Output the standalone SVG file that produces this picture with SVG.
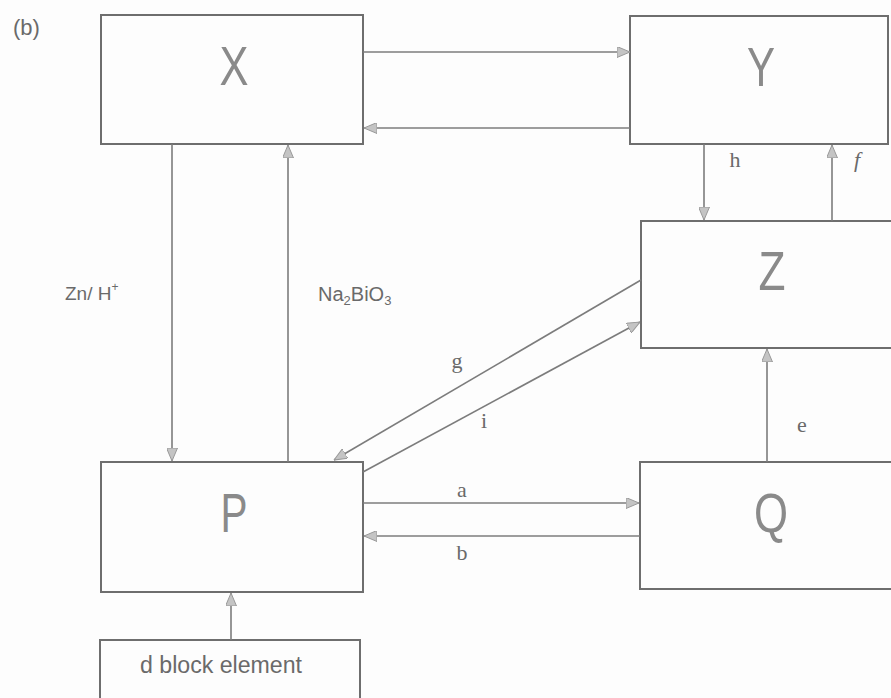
<svg xmlns="http://www.w3.org/2000/svg" width="891" height="698" viewBox="0 0 891 698">
<defs>
<style>
.box{fill:none;stroke:#6e6e6e;stroke-width:2}
.con{fill:none;stroke:#7c7c7c;stroke-width:1.6;marker-end:url(#ah)}
.big{font-family:"Liberation Sans",Arial,sans-serif;font-size:55px;fill:#8a8a8a;text-anchor:middle}
.lbl{font-family:"Liberation Serif","Times New Roman",serif;font-size:22px;fill:#6a6a6a;text-anchor:middle}
.sans{font-family:"Liberation Sans",Arial,sans-serif;fill:#6a6a6a}
</style>
<marker id="ah" viewBox="0 0 13 11" refX="13" refY="5.5" markerWidth="13" markerHeight="11" markerUnits="userSpaceOnUse" orient="auto">
<path d="M0,0 L13,5.5 L0,11 z" fill="#c4c4c4" stroke="#999" stroke-width="1"/>
</marker>
</defs>
<rect width="891" height="698" fill="#fdfdfd"/>
<text class="sans" x="13" y="35" font-size="22">(b)</text>
<g id="X"><rect class="box" x="101" y="15" width="262" height="129"/><text class="big" x="234" y="85" textLength="29" lengthAdjust="spacingAndGlyphs">X</text></g>
<g id="Y"><rect class="box" x="630" y="16" width="258" height="128"/><text class="big" x="761" y="86" textLength="28" lengthAdjust="spacingAndGlyphs">Y</text></g>
<g id="Z"><rect class="box" x="641" y="221" width="260" height="127"/><text class="big" x="772" y="290" textLength="27" lengthAdjust="spacingAndGlyphs">Z</text></g>
<g id="P"><rect class="box" x="101" y="462" width="262" height="130"/><text class="big" x="234" y="532" textLength="27" lengthAdjust="spacingAndGlyphs">P</text></g>
<g id="Q"><rect class="box" x="640" y="462" width="260" height="127"/><text class="big" x="771" y="532" textLength="34" lengthAdjust="spacingAndGlyphs">Q</text></g>
<g id="D"><rect class="box" x="100" y="640" width="260" height="80"/><text class="sans" x="221" y="673" font-size="23" text-anchor="middle" textLength="162" lengthAdjust="spacingAndGlyphs">d block element</text></g>
<g id="connectors">
<line class="con" x1="363" y1="52" x2="630" y2="52"/>
<line class="con" x1="630" y1="128" x2="364" y2="128"/>
<line class="con" x1="172" y1="144" x2="172" y2="461"/>
<line class="con" x1="288" y1="462" x2="288" y2="145"/>
<line class="con" x1="704" y1="144" x2="704" y2="220"/>
<line class="con" x1="832" y1="221" x2="832" y2="145"/>
<line class="con" x1="641" y1="280" x2="334" y2="460"/>
<line class="con" x1="363" y1="472" x2="640" y2="322"/>
<line class="con" x1="767" y1="462" x2="767" y2="349"/>
<line class="con" x1="363" y1="503" x2="639" y2="503"/>
<line class="con" x1="640" y1="536" x2="364" y2="536"/>
<line class="con" x1="231" y1="640" x2="231" y2="593"/>
</g>
<g id="labels">
<text class="sans" x="65" y="300" font-size="19">Zn/ H<tspan font-size="12" dy="-9">+</tspan></text>
<text class="sans" x="318" y="301" font-size="20">Na<tspan font-size="13" dy="4">2</tspan><tspan dy="-4">BiO</tspan><tspan font-size="13" dy="4">3</tspan></text>
<text class="lbl" x="735" y="167">h</text>
<text class="lbl" x="857" y="167" font-style="italic">f</text>
<text class="lbl" x="457" y="368">g</text>
<text class="lbl" x="484" y="428">i</text>
<text class="lbl" x="802" y="432">e</text>
<text class="lbl" x="462" y="497">a</text>
<text class="lbl" x="462" y="560">b</text>
</g>
</svg>
